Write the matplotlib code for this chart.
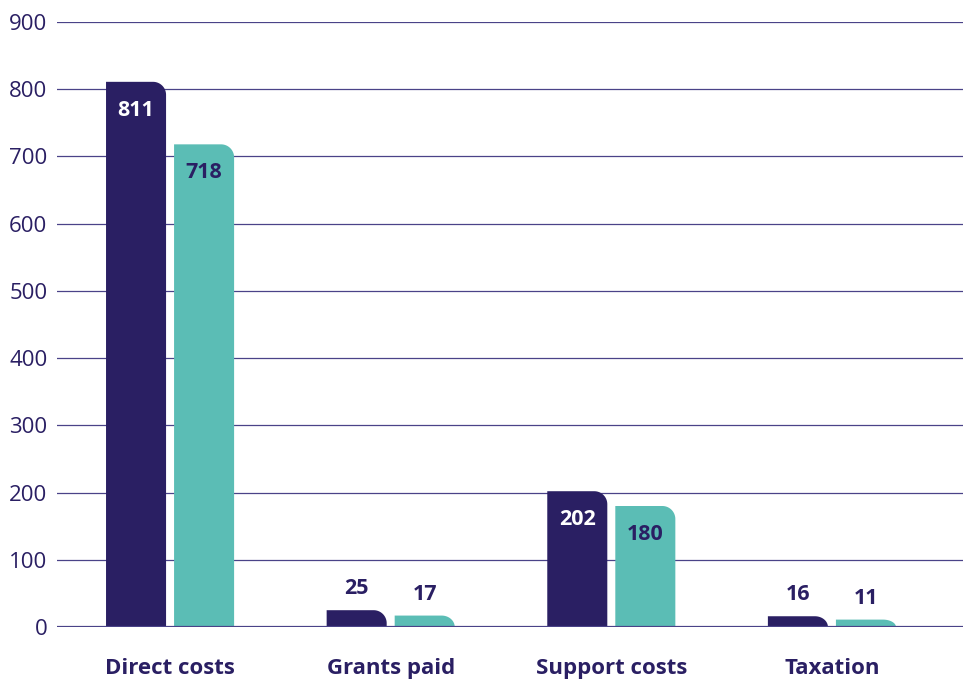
import numpy as np
import matplotlib.pyplot as plt
from matplotlib.path import Path
from matplotlib.patches import PathPatch

# data
categories = ['Direct costs', 'Grants paid', 'Support costs', 'Taxation']
series_a = [811, 25, 202, 16]
series_b = [718, 17, 180, 11]
yticks = [0, 100, 200, 300, 400, 500, 600, 700, 800, 900]

NAVY = '#2a1f63'
TEAL = '#5bbdb5'
GRID = '#4a4388'
FONT = ['Open Sans', 'DejaVu Sans']


def rounded_bar(ax, x0, width, h, color, rx, ry):
    # bar with only the top-right corner rounded
    ry = min(ry, h)
    t = np.linspace(0, np.pi / 2, 20)
    cx, cy = x0 + width - rx, h - ry
    arc_x = cx + rx * np.sin(t)
    arc_y = cy + ry * np.cos(t)
    xs = [x0, x0] + list(arc_x) + [x0 + width, x0]
    ys = [0, h] + list(arc_y) + [0, 0]
    verts = list(zip(xs, ys))
    codes = [Path.MOVETO] + [Path.LINETO] * (len(verts) - 2) + [Path.CLOSEPOLY]
    ax.add_patch(PathPatch(Path(verts, codes), facecolor=color, edgecolor='none', zorder=3))


fig = plt.figure(figsize=(9.63, 6.84), dpi=100)
ax = fig.add_axes([57 / 963, 1 - 627 / 684, 906 / 963, 605 / 684])

unit_px = 220.5
ax.set_xlim(-113 / unit_px, 3 + 131 / unit_px)
ax.set_ylim(0, 900)

w = 60 / unit_px
gap = 8 / unit_px
rx = 13 / unit_px
ry = 13 / (605 / 900)
x = np.arange(len(categories))

for i in range(len(categories)):
    xa = x[i] - gap / 2 - w
    xb = x[i] + gap / 2
    rounded_bar(ax, xa, w, series_a[i], NAVY, rx, ry)
    rounded_bar(ax, xb, w, series_b[i], TEAL, rx, ry)
    for xx, v, inside_col in ((xa, series_a[i], 'white'), (xb, series_b[i], NAVY)):
        if v > 100:
            ax.text(xx + w / 2, v - 42, str(v), ha='center', va='center',
                    fontsize=15.5, fontweight='bold', color=inside_col, family=FONT, zorder=4)
        else:
            ax.text(xx + w / 2, v + 32, str(v), ha='center', va='center',
                    fontsize=15.5, fontweight='bold', color=NAVY, family=FONT, zorder=4)

for t in yticks:
    ax.axhline(t, color=GRID, lw=1.6 if t == 0 else 0.9, zorder=2 if t else 5)

for s in ax.spines.values():
    s.set_visible(False)
ax.set_yticks(yticks)
ax.set_yticklabels([str(t) for t in yticks], fontsize=16, color=NAVY, family=FONT)
ax.tick_params(axis='y', length=0, pad=7)
ax.set_xticks(x)
ax.set_xticklabels(categories, fontsize=16, fontweight='bold', color=NAVY, family=FONT)
ax.tick_params(axis='x', length=0, pad=22)

plt.savefig('out.png', dpi=100)
